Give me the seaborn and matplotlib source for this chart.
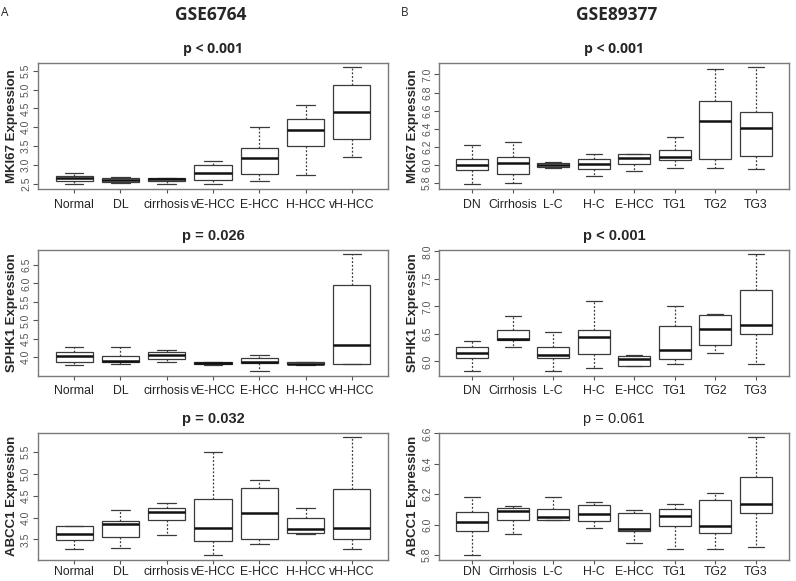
import numpy as np
import pandas as pd
import matplotlib
matplotlib.use("Agg")
import matplotlib.pyplot as plt
import seaborn as sns

sns.set_style("white")
plt.rcParams["font.family"] = ["Liberation Sans", "DejaVu Sans"]

groups_a = ["Normal", "DL", "cirrhosis", "vE-HCC", "E-HCC", "H-HCC", "vH-HCC"]
groups_b = ["DN", "Cirrhosis", "L-C", "H-C", "E-HCC", "TG1", "TG2", "TG3"]

# five-number summaries: min, q1, median, q3, max
mki67_a = [
    [2.49, 2.58, 2.65, 2.70, 2.77],
    [2.51, 2.55, 2.59, 2.64, 2.67],
    [2.48, 2.56, 2.61, 2.65, 2.66],
    [2.50, 2.59, 2.79, 3.00, 3.09],
    [2.58, 2.75, 3.17, 3.45, 4.01],
    [2.72, 3.51, 3.94, 4.22, 4.59],
    [3.20, 3.69, 4.41, 5.13, 5.60],
]
sphk1_a = [
    [3.79, 3.86, 4.045, 4.15, 4.28],
    [3.83, 3.86, 3.91, 4.045, 4.29],
    [3.86, 3.94, 4.05, 4.13, 4.19],
    [3.79, 3.83, 3.85, 3.87, 3.88],
    [3.62, 3.84, 3.87, 3.97, 4.07],
    [3.79, 3.81, 3.83, 3.86, 3.875],
    [3.81, 3.83, 4.34, 5.96, 6.79],
]
abcc1_a = [
    [3.285, 3.48, 3.615, 3.80, 3.815],
    [3.31, 3.55, 3.86, 3.92, 4.17],
    [3.60, 3.945, 4.115, 4.21, 4.32],
    [3.14, 3.47, 3.76, 4.42, 5.50],
    [3.40, 3.51, 4.11, 4.67, 4.86],
    [3.615, 3.65, 3.74, 3.98, 4.22],
    [3.29, 3.52, 3.76, 4.65, 5.83],
]
mki67_b = [
    [5.785, 5.94, 6.004, 6.066, 6.216],
    [5.80, 5.895, 6.026, 6.09, 6.25],
    [5.97, 5.975, 6.00, 6.02, 6.03],
    [5.88, 5.955, 6.01, 6.07, 6.125],
    [5.935, 6.01, 6.08, 6.115, 6.12],
    [5.97, 6.055, 6.09, 6.16, 6.31],
    [5.96, 6.06, 6.49, 6.71, 7.06],
    [5.955, 6.095, 6.41, 6.585, 7.08],
]
sphk1_b = [
    [5.82, 6.054, 6.157, 6.26, 6.375],
    [6.254, 6.39, 6.41, 6.568, 6.83],
    [5.82, 6.054, 6.12, 6.266, 6.53],
    [5.88, 6.13, 6.435, 6.568, 7.09],
    [5.91, 5.92, 6.04, 6.10, 6.115],
    [5.95, 6.04, 6.20, 6.64, 7.01],
    [6.145, 6.30, 6.59, 6.85, 6.87],
    [5.95, 6.50, 6.66, 7.30, 7.95],
]
abcc1_b = [
    [5.798, 5.958, 6.02, 6.084, 6.18],
    [5.94, 6.027, 6.09, 6.11, 6.12],
    [6.03, 6.033, 6.05, 6.10, 6.18],
    [5.975, 6.025, 6.07, 6.13, 6.15],
    [5.88, 5.958, 5.97, 6.078, 6.095],
    [5.84, 5.99, 6.055, 6.10, 6.138],
    [5.84, 5.947, 5.993, 6.164, 6.21],
    [5.85, 6.076, 6.136, 6.31, 6.575],
]


def draw_panel(ax, groups, stats, ylabel, title, yticks, title_kw, xpad=4.5):
    df = pd.DataFrame({"group": np.repeat(groups, 5), "value": np.concatenate(stats)})
    sns.boxplot(data=df, x="group", y="value", order=groups, ax=ax,
                whis=(0, 100), width=0.8, color="white", linecolor="#3a3a3a",
                linewidth=0.9, showfliers=False,
                medianprops={"color": "#111111", "linewidth": 1.8},
                whiskerprops={"linestyle": (0, (1.5, 1.5))})
    n = len(groups)
    lo, hi = df["value"].min(), df["value"].max()
    pad = 0.04 * (hi - lo)
    ax.set_ylim(lo - pad, hi + pad)
    ax.set_xlim(-0.5 - 0.04 * n, n - 0.5 + 0.04 * n)
    ax.set_yticks(yticks)
    ax.set_yticklabels([f"{t:.1f}" for t in yticks])
    ax.set_xlabel("")
    ax.set_ylabel(ylabel, fontsize=9.5, fontweight="bold")
    ax.yaxis.set_label_coords(-0.058, 0.5)
    ax.set_title(title, pad=7, **title_kw)
    for s in ax.spines.values():
        s.set_visible(True)
        s.set_color("#7a7a7a")
        s.set_linewidth(1.0)
    ax.tick_params(axis="y", direction="out", length=3.5, width=0.8, color="#555555",
                   labelsize=7.5, labelcolor="#555555", labelrotation=90, pad=1.5,
                   left=True)
    ax.tick_params(axis="x", direction="out", length=3, width=0.8, color="#555555",
                   labelsize=8.8, labelcolor="#222222", pad=xpad, bottom=True)
    for lab in ax.get_yticklabels():
        lab.set_va("center")


W, H = 796, 581
fig = plt.figure(figsize=(W / 100, H / 100), dpi=100)

lefts = [38 / W, 439 / W]
rows = [(62.5, 189), (249.5, 376), (432.5, 560)]
axes = {}
for r, (top, bot) in enumerate(rows):
    for c in range(2):
        axes[(r, c)] = fig.add_axes([lefts[c], 1 - bot / H, 350 / W, (bot - top) / H])

head_bold = {"fontsize": 10, "fontweight": "bold", "family": "Open Sans"}
r_bold = {"fontsize": 10.5, "fontweight": "bold"}
r_plain = {"fontsize": 10.5}

draw_panel(axes[(0, 0)], groups_a, mki67_a, "MKI67 Expression", "p < 0.001",
           [2.5, 3.0, 3.5, 4.0, 4.5, 5.0, 5.5], head_bold)
draw_panel(axes[(1, 0)], groups_a, sphk1_a, "SPHK1 Expression", "p = 0.026",
           [4.0, 4.5, 5.0, 5.5, 6.0, 6.5], r_bold, xpad=3.5)
draw_panel(axes[(2, 0)], groups_a, abcc1_a, "ABCC1 Expression", "p = 0.032",
           [3.5, 4.0, 4.5, 5.0, 5.5], r_bold, xpad=1.2)
draw_panel(axes[(0, 1)], groups_b, mki67_b, "MKI67 Expression", "p < 0.001",
           [5.8, 6.0, 6.2, 6.4, 6.6, 6.8, 7.0], head_bold)
draw_panel(axes[(1, 1)], groups_b, sphk1_b, "SPHK1 Expression", "p < 0.001",
           [6.0, 6.5, 7.0, 7.5, 8.0], r_bold, xpad=3.5)
draw_panel(axes[(2, 1)], groups_b, abcc1_b, "ABCC1 Expression", "p = 0.061",
           [5.8, 6.0, 6.2, 6.4, 6.6], r_plain, xpad=1.2)

fig.text(1 / W, 1 - 12 / H, "A", fontsize=8.5, family="Open Sans", va="center", ha="left")
fig.text(401 / W, 1 - 12 / H, "B", fontsize=8.5, family="Open Sans", va="center", ha="left")
fig.text(211 / W, 1 - 15 / H, "GSE6764", fontsize=12.5, fontweight="bold",
         family="Open Sans", va="center", ha="center")
fig.text(617 / W, 1 - 15 / H, "GSE89377", fontsize=12.5, fontweight="bold",
         family="Open Sans", va="center", ha="center")

fig.savefig("out.png", dpi=100)
